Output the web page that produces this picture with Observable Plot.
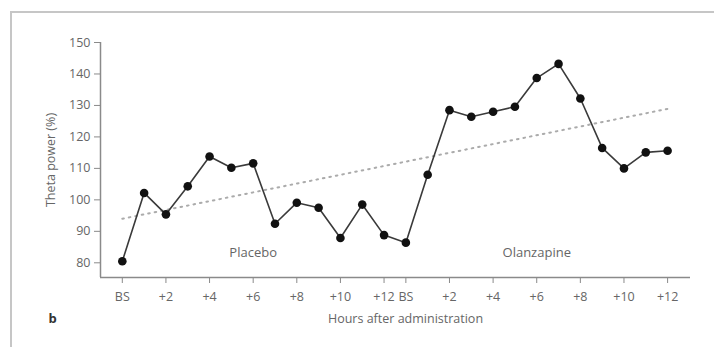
<!DOCTYPE html>
<html>
<head>
<meta charset="utf-8">
<script src="https://cdn.jsdelivr.net/npm/d3@7"></script>
<script src="https://cdn.jsdelivr.net/npm/@observablehq/plot@0.6"></script>
<style>
  html, body { margin: 0; padding: 0; background: #fff; }
  #wrap { position: relative; width: 714px; height: 347px; overflow: hidden; }
  #panel { position: absolute; left: 10px; top: 11px; width: 760px; height: 400px;
           border-left: 2px solid #c6c6c6; border-top: 2px solid #c6c6c6; pointer-events: none; }
  svg { display: block; }
</style>
</head>
<body>
<div id="wrap"><div id="panel"></div></div>
<script>
// Theta power (% of baseline) at baseline and hourly after dosing
const phases = ["Placebo", "Olanzapine"];
const placebo = [80.5, 102.2, 95.4, 104.3, 113.8, 110.2, 111.6, 92.4, 99.1, 97.5, 87.9, 98.5, 88.8];
const olanzapine = [86.4, 108.0, 128.5, 126.4, 128.0, 129.6, 138.7, 143.2, 132.2, 116.5, 110.0, 115.1, 115.6];

// Tick positions (sequential time index) and their labels
const tickIndex = [0, 2, 4, 6, 8, 10, 12, 13, 15, 17, 19, 21, 23, 25];
const tickLabels = ["BS", "+2", "+4", "+6", "+8", "+10", "+12", "BS", "+2", "+4", "+6", "+8", "+10", "+12"];
const yTicks = [80, 90, 100, 110, 120, 130, 140, 150];

// Linear trend across both sessions (end points)
const trendIndex = [0, 25];
const trendValue = [94.0, 128.9];

// Session label placement
const phaseLabelIndex = [6, 19];
const phaseLabelValue = [83.1, 83.1];

const xDomain = [-1.0, 26.05];
const yDomain = [75.33, 150];

const series = [...placebo, ...olanzapine].map((v, i) => ({i, v}));
const trend = trendIndex.map((i, k) => ({i, v: trendValue[k]}));
const phaseLabels = phases.map((name, k) => ({name, i: phaseLabelIndex[k], v: phaseLabelValue[k]}));

const textColor = "#666";
const axisColor = "#8a8a8a";

const chart = Plot.plot({
  width: 714,
  height: 347,
  marginLeft: 100,
  marginRight: 24,
  marginTop: 42,
  marginBottom: 70,
  style: {fontFamily: "'Open Sans', sans-serif", fontSize: "12.5px", color: textColor, background: "transparent"},
  x: {domain: xDomain},
  y: {domain: yDomain},
  marks: [
    Plot.axisY({
      ticks: yTicks, tickSize: 6, tickPadding: 4, stroke: axisColor, fill: textColor,
      label: "Theta power (%)", labelAnchor: "center", labelArrow: false, labelOffset: 54
    }),
    Plot.axisX({
      ticks: tickIndex, tickFormat: (d, k) => tickLabels[k], tickSize: 6, tickPadding: 9,
      stroke: axisColor, fill: textColor, label: null
    }),
    Plot.text(["Hours after administration"], {frameAnchor: "bottom", dx: 10, dy: 45, fill: textColor, fontSize: 12.5}),
    Plot.ruleX([xDomain[0]], {y1: yDomain[0], y2: yDomain[1], stroke: axisColor, strokeWidth: 1.5}),
    Plot.ruleY([yDomain[0]], {stroke: axisColor, strokeWidth: 1.5}),
    Plot.line(trend, {x: "i", y: "v", stroke: "#ababab", strokeWidth: 2, strokeDasharray: "1.6,5", strokeLinecap: "round"}),
    Plot.line(series, {x: "i", y: "v", stroke: "#3a3a3a", strokeWidth: 1.6}),
    Plot.dot(series, {x: "i", y: "v", r: 4.3, fill: "#111", stroke: null}),
    Plot.text(phaseLabels, {x: "i", y: "v", text: "name", fill: textColor, fontSize: 13}),
    Plot.text(["b"], {frameAnchor: "bottom-left", dx: -52, dy: 45, fontWeight: "bold", fontSize: 13, fill: "#333"})
  ]
});

document.getElementById("wrap").prepend(chart);
</script>
</body>
</html>
